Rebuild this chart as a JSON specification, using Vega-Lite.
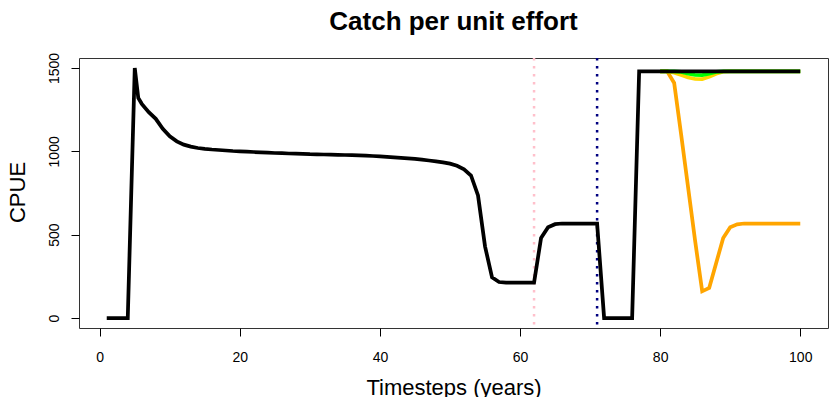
{
  "$schema": "https://vega.github.io/schema/vega-lite/v6.json",
  "width": 749,
  "height": 270,
  "autosize": {"type": "none"},
  "padding": {"left": 79, "top": 58, "right": 3, "bottom": 69},
  "background": "white",
  "config": {"font": "Liberation Sans", "view": {"stroke": "#333", "strokeWidth": 1}},
  "title": {"text": "Catch per unit effort", "fontSize": 26, "fontWeight": "bold", "font": "Liberation Sans", "color": "#000", "anchor": "middle", "frame": "group", "offset": 17},
  "datasets": {
    "black": [
      {"t":1,"v":0},{"t":2,"v":0},{"t":3,"v":0},{"t":4,"v":0},{"t":5,"v":1500},{"t":5.5,"v":1320},{"t":6,"v":1285},
      {"t":7,"v":1235},{"t":8,"v":1195},{"t":9,"v":1135},{"t":10,"v":1090},{"t":11,"v":1060},{"t":12,"v":1040},{"t":13,"v":1028},{"t":14,"v":1020},
      {"t":15,"v":1015},{"t":16,"v":1011},{"t":17,"v":1008},{"t":18,"v":1005},{"t":19,"v":1002},{"t":20,"v":1000},{"t":21,"v":998},{"t":22,"v":996},
      {"t":23,"v":994},{"t":24,"v":992},{"t":25,"v":990},{"t":26,"v":989},{"t":27,"v":987},{"t":28,"v":986},{"t":29,"v":985},{"t":30,"v":983},
      {"t":31,"v":982},{"t":32,"v":981},{"t":33,"v":980},{"t":34,"v":979},{"t":35,"v":978},{"t":36,"v":977},{"t":37,"v":976},{"t":38,"v":974},
      {"t":39,"v":972},{"t":40,"v":970},{"t":41,"v":967},{"t":42,"v":964},{"t":43,"v":961},{"t":44,"v":958},{"t":45,"v":955},{"t":46,"v":950},
      {"t":47,"v":945},{"t":48,"v":940},{"t":49,"v":934},{"t":50,"v":926},{"t":51,"v":913},{"t":52,"v":892},{"t":53,"v":855},{"t":54,"v":735},
      {"t":55,"v":430},{"t":56,"v":244},{"t":57,"v":216},{"t":58,"v":213},{"t":59,"v":213},{"t":60,"v":213},{"t":61,"v":213},{"t":62,"v":213},
      {"t":63,"v":480},{"t":64,"v":545},{"t":65,"v":563},{"t":66,"v":567},{"t":67,"v":567},{"t":68,"v":567},{"t":69,"v":567},{"t":70,"v":567},
      {"t":71,"v":567},{"t":72,"v":0},{"t":73,"v":0},{"t":74,"v":0},{"t":75,"v":0},{"t":76,"v":0},{"t":77,"v":1480},{"t":78,"v":1480},
      {"t":79,"v":1480},{"t":80,"v":1480},{"t":81,"v":1480},{"t":82,"v":1480},{"t":83,"v":1480},{"t":84,"v":1480},{"t":85,"v":1480},{"t":86,"v":1480},
      {"t":87,"v":1480},{"t":88,"v":1480},{"t":89,"v":1480},{"t":90,"v":1480},{"t":91,"v":1480},{"t":92,"v":1480},{"t":93,"v":1480},{"t":94,"v":1480},
      {"t":95,"v":1480},{"t":96,"v":1480},{"t":97,"v":1480},{"t":98,"v":1480},{"t":99,"v":1480},{"t":100,"v":1480}
    ],
    "orange": [
      {"t":80,"v":1480},{"t":81,"v":1480},{"t":82,"v":1410},{"t":83,"v":1100},{"t":84,"v":780},{"t":85,"v":460},{"t":86,"v":160},{"t":87,"v":180},
      {"t":88,"v":330},{"t":89,"v":480},{"t":90,"v":545},{"t":91,"v":562},{"t":92,"v":567},{"t":93,"v":567},{"t":94,"v":567},{"t":95,"v":567},
      {"t":96,"v":567},{"t":97,"v":567},{"t":98,"v":567},{"t":99,"v":567},{"t":100,"v":567}
    ],
    "yellow": [
      {"t":80,"v":1480},{"t":81,"v":1480},{"t":82,"v":1472},{"t":83,"v":1458},{"t":84,"v":1443},{"t":85,"v":1434},{"t":86,"v":1433},{"t":87,"v":1447},
      {"t":88,"v":1466},{"t":89,"v":1478},{"t":90,"v":1480},{"t":95,"v":1480},{"t":100,"v":1480}
    ],
    "green": [
      {"t":80,"v":1480},{"t":82,"v":1480},{"t":83,"v":1477},{"t":84,"v":1466},{"t":85,"v":1458},{"t":86,"v":1457},{"t":87,"v":1466},{"t":88,"v":1477},
      {"t":89,"v":1480},{"t":95,"v":1480},{"t":100,"v":1480}
    ],
    "refs": [{"t":62,"event":"start"},{"t":71,"event":"end"}]
  },
  "layer": [
    {
      "data": {"name": "orange"},
      "mark": {"type": "line", "color": "#FFA500", "strokeWidth": 3.75},
      "encoding": {
        "x": {"field": "t", "type": "quantitative", "scale": {"domain": [-2.96, 103.96], "nice": false, "zero": false},
          "axis": {"title": "Timesteps (years)", "values": [0,20,40,60,80,100], "format": "d", "grid": false, "domain": false,
            "ticks": true, "tickSize": 8, "tickColor": "#000", "tickWidth": 1,
            "labelFont": "Liberation Sans", "labelFontSize": 14, "labelColor": "#000", "labelBaseline": "alphabetic", "labelPadding": 25,
            "labelFlush": false, "labelOverlap": false,
            "titleFont": "Liberation Sans", "titleFontSize": 22, "titleFontWeight": "normal", "titleColor": "#000",
            "titleBaseline": "alphabetic", "titleX": 374.5, "titleY": 66, "titleAlign": "center"}},
        "y": {"field": "v", "type": "quantitative", "scale": {"domain": [-60, 1560], "nice": false, "zero": false},
          "axis": {"title": "CPUE", "values": [0,500,1000,1500], "format": "d", "grid": false, "domain": false,
            "ticks": true, "tickSize": 8, "tickColor": "#000", "tickWidth": 1,
            "labelFont": "Liberation Sans", "labelFontSize": 14, "labelColor": "#000", "labelAngle": -90, "labelAlign": "center",
            "labelBaseline": "alphabetic", "labelPadding": 12.7, "labelFlush": false, "labelOverlap": false,
            "titleFont": "Liberation Sans", "titleFontSize": 22, "titleFontWeight": "normal", "titleColor": "#000",
            "titleAngle": -90, "titleBaseline": "alphabetic", "titleAlign": "center", "titleX": -54.5, "titleY": 134}}
      }
    },
    {
      "data": {"name": "yellow"},
      "mark": {"type": "line", "color": "#FFD700", "strokeWidth": 3.75},
      "encoding": {
        "x": {"field": "t", "type": "quantitative"},
        "y": {"field": "v", "type": "quantitative"}
      }
    },
    {
      "data": {"name": "green"},
      "mark": {"type": "line", "color": "#00FF00", "strokeWidth": 3.75},
      "encoding": {
        "x": {"field": "t", "type": "quantitative"},
        "y": {"field": "v", "type": "quantitative"}
      }
    },
    {
      "data": {"name": "refs"},
      "transform": [{"filter": "datum.event === 'start'"}],
      "mark": {"type": "rule", "color": "#FFC0CB", "strokeWidth": 2.5, "strokeDash": [2.5, 5.5]},
      "encoding": {"x": {"field": "t", "type": "quantitative"}}
    },
    {
      "data": {"name": "refs"},
      "transform": [{"filter": "datum.event === 'end'"}],
      "mark": {"type": "rule", "color": "#000080", "strokeWidth": 2.5, "strokeDash": [2.5, 5.5]},
      "encoding": {"x": {"field": "t", "type": "quantitative"}}
    },
    {
      "data": {"name": "black"},
      "mark": {"type": "line", "color": "#000", "strokeWidth": 3.75},
      "encoding": {
        "x": {"field": "t", "type": "quantitative"},
        "y": {"field": "v", "type": "quantitative"}
      }
    }
  ]
}
